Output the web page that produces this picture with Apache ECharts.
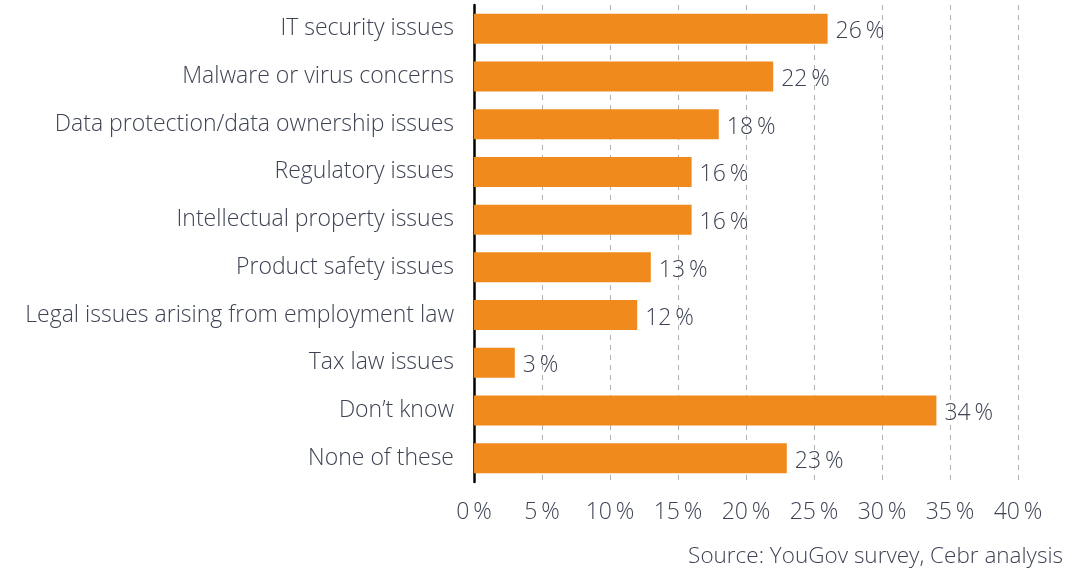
<!DOCTYPE html>
<html>
<head>
<meta charset="utf-8">
<script src="https://cdn.jsdelivr.net/npm/echarts@6/dist/echarts.min.js"></script>
<style>
  html, body { margin: 0; padding: 0; background: #fff; }
  #chart { width: 1092px; height: 573px; }
</style>
</head>
<body>
<div id="chart"></div>
<script>
// Concerns reported, share of respondents (%)
const categories = [
  'IT security issues',
  'Malware or virus concerns',
  'Data protection/data ownership issues',
  'Regulatory issues',
  'Intellectual property issues',
  'Product safety issues',
  'Legal issues arising from employment law',
  'Tax law issues',
  'Don\u2019t know',
  'None of these'
];
const shares = [26, 22, 18, 16, 16, 13, 12, 3, 34, 23];
const sourceNote = 'Source: YouGov survey, Cebr analysis';

const textColor = '#3d4354';
const fontFamily = '"Open Sans", sans-serif';

const chart = echarts.init(document.getElementById('chart'), null, { renderer: 'canvas' });
chart.setOption({
  animation: false,
  backgroundColor: '#ffffff',
  grid: { left: 474, right: 74, top: 5, bottom: 91, containLabel: false },
  xAxis: {
    type: 'value',
    min: 0,
    max: 40,
    interval: 5,
    axisLine: { show: false },
    axisTick: { show: false },
    splitLine: { show: true, lineStyle: { color: '#b0b0b0', type: [5, 5], width: 1 } },
    axisLabel: {
      margin: 19,
      color: textColor,
      fontFamily: fontFamily,
      fontWeight: 300,
      fontSize: 23,
      formatter: v => v + '\u2009%'
    }
  },
  yAxis: {
    type: 'category',
    data: categories,
    inverse: true,
    axisLine: { show: true, lineStyle: { color: '#000000', width: 2.5 } },
    axisTick: { show: false },
    axisLabel: {
      margin: 20,
      padding: [4, 0, 0, 0],
      color: textColor,
      fontFamily: fontFamily,
      fontWeight: 300,
      fontSize: 23
    }
  },
  series: [{
    type: 'bar',
    data: shares,
    barWidth: 30,
    itemStyle: { color: '#f08a1c' },
    label: {
      show: true,
      position: 'right',
      distance: 8,
      offset: [0, 3],
      color: textColor,
      fontFamily: fontFamily,
      fontWeight: 300,
      fontSize: 23,
      formatter: p => p.value + '\u2009%'
    }
  }],
  graphic: [{
    type: 'text',
    right: 29,
    top: 545,
    style: {
      text: sourceNote,
      fill: textColor,
      font: '300 22.5px "Open Sans", sans-serif'
    }
  }]
});
</script>
</body>
</html>
